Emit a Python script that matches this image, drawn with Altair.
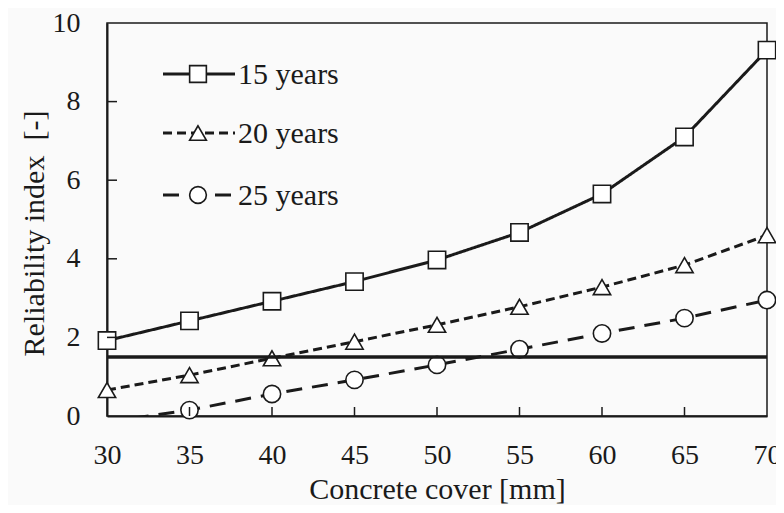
import altair as alt
import pandas as pd

# ---- data ----
cover = [30, 35, 40, 45, 50, 55, 60, 65, 70]
beta_15 = [1.92, 2.42, 2.92, 3.42, 3.97, 4.67, 5.65, 7.10, 9.31]
beta_20 = [0.66, 1.04, 1.47, 1.89, 2.32, 2.78, 3.28, 3.84, 4.60]
beta_25 = [-0.15, 0.15, 0.56, 0.92, 1.30, 1.70, 2.10, 2.49, 2.95]
series = ["15 years", "20 years", "25 years"]
target_beta = [1.5]
x_ticks = [30, 35, 40, 45, 50, 55, 60, 65, 70]
y_ticks = [0, 2, 4, 6, 8, 10]
x_inner_ticks = [35, 40, 45, 50, 55, 60, 65]
y_inner_ticks = [2, 4, 6, 8]

FONT = "Liberation Serif"
INK = "#1a1a1a"
W, H = 660, 393

rows = []
for name, vals in zip(series, [beta_15, beta_20, beta_25]):
    for c, b in zip(cover, vals):
        rows.append({"cover": c, "beta": b, "series": name})
df = pd.DataFrame(rows)
df_pts = df[df["beta"] >= 0]

x_enc = alt.X(
    "cover:Q",
    scale=alt.Scale(domain=[30, 70], nice=False, zero=False),
    axis=alt.Axis(
        values=x_ticks, grid=False, ticks=False, domainColor=INK, domainWidth=2,
        labelFont=FONT, labelFontSize=28, labelColor=INK, labelPadding=25,
        labelFlush=False, labelOverlap=False, labelBound=False,
        title="Concrete cover [mm]", titleFont=FONT, titleFontSize=30,
        titleFontWeight="normal", titleColor=INK, titleY=82,
        titleBaseline="alphabetic",
    ),
)
y_enc = alt.Y(
    "beta:Q",
    scale=alt.Scale(domain=[0, 10], nice=False),
    axis=alt.Axis(
        values=y_ticks, grid=False, ticks=False, domainColor=INK, domainWidth=2,
        labelFont=FONT, labelFontSize=28, labelColor=INK, labelPadding=27,
        labelFlush=False, labelOverlap=False,
        title="Reliability index\u00a0 [-]", titleFont=FONT, titleFontSize=30,
        titleFontWeight="normal", titleColor=INK, titleX=-64, titleY=210,
        titleBaseline="alphabetic",
    ),
)

dash_scale = alt.Scale(domain=series, range=[[1, 0], [9, 5], [16, 10]])
shape_scale = alt.Scale(domain=series, range=["square", "triangle-up", "circle"])

lines = alt.Chart(df).mark_line(clip=True, strokeWidth=3, color=INK).encode(
    x=x_enc, y=y_enc,
    strokeDash=alt.StrokeDash("series:N", scale=dash_scale, legend=None),
    detail="series:N",
)
points = alt.Chart(df_pts).mark_point(
    filled=True, fill="white", stroke=INK, strokeWidth=1.6, size=300, opacity=1
).encode(
    x="cover:Q", y="beta:Q",
    shape=alt.Shape("series:N", scale=shape_scale, legend=None),
)
target = alt.Chart(pd.DataFrame({"y": target_beta, "x": [cover[0]], "x2": [cover[-1]]})).mark_rule(
    strokeWidth=3.5, color=INK
).encode(x="x:Q", x2="x2:Q", y="y:Q")

xt = alt.Chart(pd.DataFrame({"t": x_inner_ticks})).mark_rule(color=INK, strokeWidth=1.5).encode(
    x="t:Q", y=alt.value(H), y2=alt.value(H - 9)
)
yt = alt.Chart(pd.DataFrame({"t": y_inner_ticks})).mark_rule(color=INK, strokeWidth=1.5).encode(
    y="t:Q", x=alt.value(0), x2=alt.value(10)
)

# ---- manual legend (top-left inside plot) ----
leg_y = [51, 110, 172]
leg_dash = [[1, 0], [9, 5], [16, 10]]
leg_shape = ["square", "triangle-up", "circle"]
leg_layers = []
for name, yy, dsh, shp in zip(series, leg_y, leg_dash, leg_shape):
    one = pd.DataFrame({"label": [name]})
    leg_layers.append(
        alt.Chart(one).mark_rule(color=INK, strokeWidth=3, strokeDash=dsh).encode(
            x=alt.value(56), x2=alt.value(128), y=alt.value(yy)
        )
    )
    leg_layers.append(
        alt.Chart(one).mark_point(
            shape=shp, filled=True, fill="white", stroke=INK, strokeWidth=1.6, size=280, opacity=1
        ).encode(x=alt.value(91), y=alt.value(yy))
    )
    leg_layers.append(
        alt.Chart(one).mark_text(
            align="left", baseline="middle", font=FONT, fontSize=30, color=INK
        ).encode(x=alt.value(131), y=alt.value(yy + 1), text="label:N")
    )

chart = alt.layer(lines, points, target, xt, yt, *leg_layers).properties(
    width=W, height=H,
    autosize=alt.AutoSizeParams(type="none"),
    padding={"left": 99, "top": 15, "right": 9, "bottom": 89},
    background="#fafafa",
).configure_view(stroke=INK, strokeWidth=1.5)

chart.save("out.html", embed_options={"renderer": "svg", "actions": False})
